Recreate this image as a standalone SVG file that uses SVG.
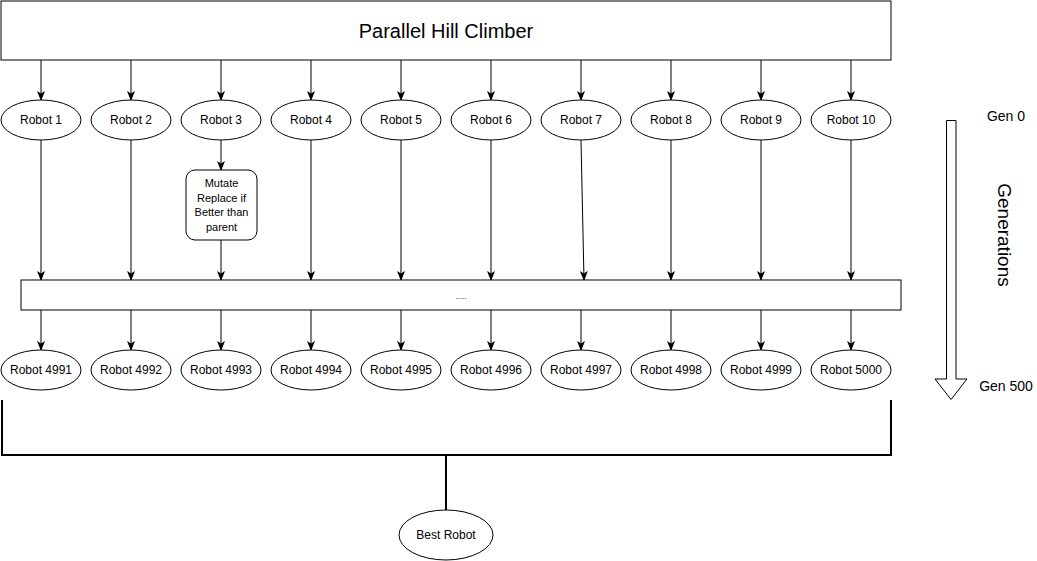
<svg xmlns="http://www.w3.org/2000/svg" width="1037" height="561" viewBox="0 0 1037 561">
<style>
text{font-family:"Liberation Sans",Arial,sans-serif;fill:#000;text-anchor:middle}
.n{fill:#fff;stroke:#000;stroke-width:1}
.l{fill:none;stroke:#000;stroke-width:1}
.t{font-size:12px}
.b{fill:none;stroke:#000;stroke-width:2}
</style>
<defs>
<marker id="a" viewBox="0 0 10 10" refX="9" refY="5" markerWidth="10" markerHeight="10" markerUnits="userSpaceOnUse" orient="auto">
<path d="M0,1 L10,5 L0,9 L2.5,5 Z" fill="#000"/>
</marker>
</defs>
<rect width="1037" height="561" fill="#fff"/>
<g id="connectors">
<g class="l" marker-end="url(#a)">
<path d="M41,60V100"/><path d="M131,60V100"/><path d="M221,60V100"/><path d="M311,60V100"/><path d="M401,60V100"/>
<path d="M491,60V100"/><path d="M581,60V100"/><path d="M671,60V100"/><path d="M761,60V100"/><path d="M851,60V100"/>
<path d="M41,140V280"/><path d="M131,140V280"/><path d="M221,140V170"/><path d="M221,240V280"/><path d="M311,140V280"/>
<path d="M401,140V280"/><path d="M491,140V280"/><path d="M581,140L584,280"/><path d="M671,140V280"/><path d="M761,140V280"/><path d="M851,140V280"/>
<path d="M41,310V350"/><path d="M131,310V350"/><path d="M221,310V350"/><path d="M311,310V350"/><path d="M401,310V350"/>
<path d="M491,310V350"/><path d="M581,310V350"/><path d="M671,310V350"/><path d="M761,310V350"/><path d="M851,310V350"/>
</g>
<path class="b" d="M2,400V455H891V400"/>
<path class="b" d="M446,455V510"/>
</g>
<g id="title"><rect class="n" x="1" y="1" width="890" height="59"/><text x="446" y="38" style="font-size:20px">Parallel Hill Climber</text></g>
<g id="r1"><ellipse class="n" cx="41" cy="120" rx="40" ry="20"/><text class="t" x="41" y="124">Robot 1</text></g>
<g id="r2"><ellipse class="n" cx="131" cy="120" rx="40" ry="20"/><text class="t" x="131" y="124">Robot 2</text></g>
<g id="r3"><ellipse class="n" cx="221" cy="120" rx="40" ry="20"/><text class="t" x="221" y="124">Robot 3</text></g>
<g id="r4"><ellipse class="n" cx="311" cy="120" rx="40" ry="20"/><text class="t" x="311" y="124">Robot 4</text></g>
<g id="r5"><ellipse class="n" cx="401" cy="120" rx="40" ry="20"/><text class="t" x="401" y="124">Robot 5</text></g>
<g id="r6"><ellipse class="n" cx="491" cy="120" rx="40" ry="20"/><text class="t" x="491" y="124">Robot 6</text></g>
<g id="r7"><ellipse class="n" cx="581" cy="120" rx="40" ry="20"/><text class="t" x="581" y="124">Robot 7</text></g>
<g id="r8"><ellipse class="n" cx="671" cy="120" rx="40" ry="20"/><text class="t" x="671" y="124">Robot 8</text></g>
<g id="r9"><ellipse class="n" cx="761" cy="120" rx="40" ry="20"/><text class="t" x="761" y="124">Robot 9</text></g>
<g id="r10"><ellipse class="n" cx="851" cy="120" rx="40" ry="20"/><text class="t" x="851" y="124">Robot 10</text></g>
<g id="mutate"><rect class="n" x="186" y="170" width="71" height="70" rx="9"/>
<text style="font-size:11px"><tspan x="221.5" y="187">Mutate</tspan><tspan x="221.5" y="201.5">Replace if</tspan><tspan x="221.5" y="216">Better than</tspan><tspan x="221.5" y="230.5">parent</tspan></text></g>
<g id="bar"><rect class="n" x="21" y="280" width="880" height="30"/><text x="461" y="299" style="font-size:8px">.....</text></g>
<g id="b1"><ellipse class="n" cx="41" cy="370" rx="40" ry="20"/><text class="t" x="41" y="374">Robot 4991</text></g>
<g id="b2"><ellipse class="n" cx="131" cy="370" rx="40" ry="20"/><text class="t" x="131" y="374">Robot 4992</text></g>
<g id="b3"><ellipse class="n" cx="221" cy="370" rx="40" ry="20"/><text class="t" x="221" y="374">Robot 4993</text></g>
<g id="b4"><ellipse class="n" cx="311" cy="370" rx="40" ry="20"/><text class="t" x="311" y="374">Robot 4994</text></g>
<g id="b5"><ellipse class="n" cx="401" cy="370" rx="40" ry="20"/><text class="t" x="401" y="374">Robot 4995</text></g>
<g id="b6"><ellipse class="n" cx="491" cy="370" rx="40" ry="20"/><text class="t" x="491" y="374">Robot 4996</text></g>
<g id="b7"><ellipse class="n" cx="581" cy="370" rx="40" ry="20"/><text class="t" x="581" y="374">Robot 4997</text></g>
<g id="b8"><ellipse class="n" cx="671" cy="370" rx="40" ry="20"/><text class="t" x="671" y="374">Robot 4998</text></g>
<g id="b9"><ellipse class="n" cx="761" cy="370" rx="40" ry="20"/><text class="t" x="761" y="374">Robot 4999</text></g>
<g id="b10"><ellipse class="n" cx="851" cy="370" rx="40" ry="20"/><text class="t" x="851" y="374">Robot 5000</text></g>
<g id="best"><ellipse class="n" cx="446" cy="535" rx="47" ry="25"/><text class="t" x="446" y="539">Best Robot</text></g>
<g id="gen-arrow"><path d="M946.5,120.5H956V379H967L951,399.5L935,379H946.5Z" fill="#fff" stroke="#000" stroke-width="1"/></g>
<g id="labels">
<text x="1006" y="121" style="font-size:14px">Gen 0</text>
<text x="1006" y="391" style="font-size:14px">Gen 500</text>
<text transform="translate(998,235) rotate(90)" style="font-size:19px">Generations</text>
</g>
</svg>
